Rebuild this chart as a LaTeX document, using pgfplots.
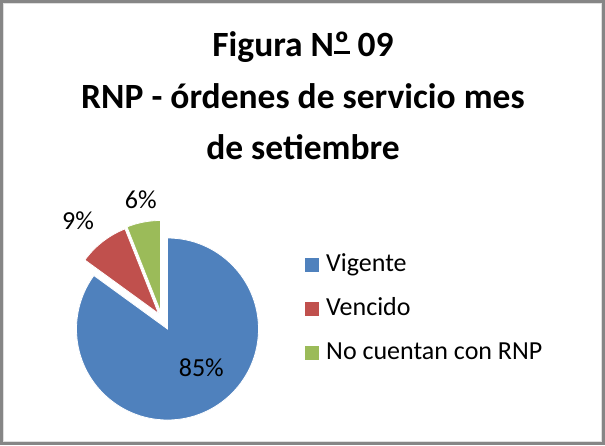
\documentclass[border=0pt]{standalone}
\usepackage{pgfplots}
\pgfplotsset{compat=1.18}
\usepackage{fontspec}
\setmainfont{Carlito}
\definecolor{cblue}{HTML}{4F81BD}
\definecolor{cred}{HTML}{C0504D}
\definecolor{cgreen}{HTML}{9BBB59}
\definecolor{cframe}{HTML}{868686}
\newcommand\ordo{\setbox0\hbox{º}\rlap{\copy0}\rule[0.08em]{\wd0}{0.07em}}
\begin{document}
\begin{tikzpicture}
\begin{axis}[hide axis, scale only axis, width=605pt, height=445pt,
  xmin=0, xmax=605, ymin=-445, ymax=0, clip=false]
\addplot[draw=none] coordinates {(0,0)};
% data: shares in percent
\def\vA{85}\def\vB{9}\def\vC{6}
\def\R{91pt}
\pgfmathsetmacro\aA{90}
\pgfmathsetmacro\aB{90-3.6*\vA}
\pgfmathsetmacro\aC{\aB-3.6*\vB}
\pgfmathsetmacro\aD{\aC-3.6*\vC}
\fill[cblue, draw=white, line width=0.8pt] (axis cs:167.5,-329) -- ++(\aA:\R) arc[start angle=\aA, end angle=\aB, radius=\R] -- cycle;
\fill[cred, draw=white, line width=0.8pt] (axis cs:158.5,-313.5) -- ++(\aB:\R) arc[start angle=\aB, end angle=\aC, radius=\R] -- cycle;
\fill[cgreen, draw=white, line width=0.8pt] (axis cs:160.5,-311.5) -- ++(\aC:\R) arc[start angle=\aC, end angle=\aD, radius=\R] -- cycle;
% labels
\node[anchor=base, font=\fontsize{26}{31}\selectfont] at (axis cs:201.3,-376) {85\%};
\node[anchor=base, font=\fontsize{26}{31}\selectfont] at (axis cs:78,-230) {9\%};
\node[anchor=base, font=\fontsize{26}{31}\selectfont] at (axis cs:140.7,-208.3) {6\%};
% title
\node[anchor=base, font=\bfseries\fontsize{35.5}{42}\selectfont] at (axis cs:303,-56.7) {Figura N\ordo{} 09};
\node[anchor=base, font=\bfseries\fontsize{35.5}{42}\selectfont] at (axis cs:303,-108.3) {RNP - órdenes de servicio mes};
\node[anchor=base, font=\bfseries\fontsize{35.5}{42}\selectfont] at (axis cs:303,-160) {de setiembre};
% legend
\fill[cblue] (axis cs:304.5,-258) rectangle (axis cs:318.5,-272);
\fill[cred] (axis cs:304.5,-302) rectangle (axis cs:318.5,-316);
\fill[cgreen] (axis cs:304.5,-346) rectangle (axis cs:318.5,-360);
\node[anchor=base west, inner sep=0pt, font=\fontsize{26}{31}\selectfont] at (axis cs:326,-271.7) {Vigente};
\node[anchor=base west, inner sep=0pt, font=\fontsize{26}{31}\selectfont] at (axis cs:326,-315.7) {Vencido};
\node[anchor=base west, inner sep=0pt, font=\fontsize{26}{31}\selectfont] at (axis cs:326,-359.7) {No cuentan con RNP};
% frame
\draw[cframe, line width=3pt] (axis cs:1.5,-1.5) rectangle (axis cs:603.5,-443.5);
\draw[gray!25, line width=0.8pt] (axis cs:3.6,-3.6) rectangle (axis cs:601.4,-441.4);
\end{axis}
\end{tikzpicture}
\end{document}
